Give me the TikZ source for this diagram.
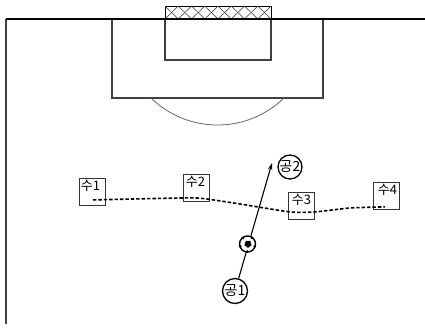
\documentclass[tikz,border=0pt]{standalone}
\usepackage{fontspec}
\setmainfont{Noto Sans CJK KR}
\usetikzlibrary{arrows.meta,calc}
\begin{document}
\begin{tikzpicture}[x=1pt,y=-1pt,
  fieldline/.style={draw=black!75, line width=1.1pt},
  player/.style={draw=black!80, fill=white, line width=0.9pt, anchor=north west,
    minimum width=26pt, minimum height=27pt, inner xsep=1.5pt, inner ysep=1pt,
    text width=23pt, align=left, text height=11pt, text depth=14pt,
    font=\fontsize{13}{14}\selectfont},
  attacker/.style={circle, draw=black, fill=white, line width=1.3pt, minimum size=25pt, inner sep=0pt,
    font=\fontsize{14}{15}\selectfont},
  defline/.style={line width=1.6pt, dash pattern=on 3.4pt off 2pt},
]
\useasboundingbox (0,0) rectangle (425,328);
% field
\draw[fieldline] (6,19) -- (6,324);
\draw[fieldline] (112,19) rectangle (323,98);
\draw[fieldline] (165,19) rectangle (271,60);
\draw[draw=black!60, line width=0.8pt] (284,98) arc[start angle=45.8, end angle=134.2, radius=95.4];
% goal net
\draw[black, line width=0.8pt] (165,6) rectangle (271,19);
\foreach \i in {0,...,7}{
  \pgfmathsetmacro{\xa}{165+13.25*\i}
  \pgfmathsetmacro{\xb}{165+13.25*(\i+1)}
  \draw[black!80, line width=0.5pt] (\xa,6) -- (\xb,19) (\xb,6) -- (\xa,19);
}
\draw[black, line width=1.6pt] (6,19) -- (425,19);
% defenders
\node[player] (s1) at (79,178) {수1};
\node[player] (s2) at (183,174) {\hspace*{1pt}수2};
\node[player] (s3) at (288,192) {\hspace*{2pt}수3};
\node[player] (s4) at (373,182) {\hspace*{3pt}수4};
% defensive line
\coordinate (d1) at ($(s1.south west)+(14,-6)$);
\coordinate (d2) at ($(s2.south west)+(4,-4)$);
\coordinate (d3) at ($(s3.south west)+(2,-8)$);
\coordinate (d4) at ($(s4.south west)+(12,-3)$);
\draw[defline] plot[smooth, tension=0.4] coordinates {(d1) (d2) ($(s2.south east)+(-4,-3)$) (240,204) (d3) ($(s3.south east)+(0,-8)$) (350,208) (d4)};
% attackers and ball
\node[attacker] (k1) at (235,291) {공1};
\node[attacker, minimum size=24pt] (k2) at (290,167) {공2};
\coordinate (tip) at (272,163);
\draw[line width=1.1pt, -{Stealth[length=7pt,width=4.5pt]}] (k1) -- (tip);
\node[circle, draw=black, fill=white, line width=1.4pt, minimum size=16pt, inner sep=0pt] (ball) at (247.5,244) {};
\fill[black] ($(ball.center)+(0.5,0)$) ++(90:3.8) -- ++(-36:3.8*1.1756) -- ++(-108:3.8*1.1756) -- ++(-180:3.8*1.1756) -- ++(108:3.8*1.1756) -- cycle;
\foreach \a in {18,90,162,234,306}{
  \fill[black] ($(ball.center)+(\a:7.6)$) circle[radius=1.5];
}
\end{tikzpicture}
\end{document}
